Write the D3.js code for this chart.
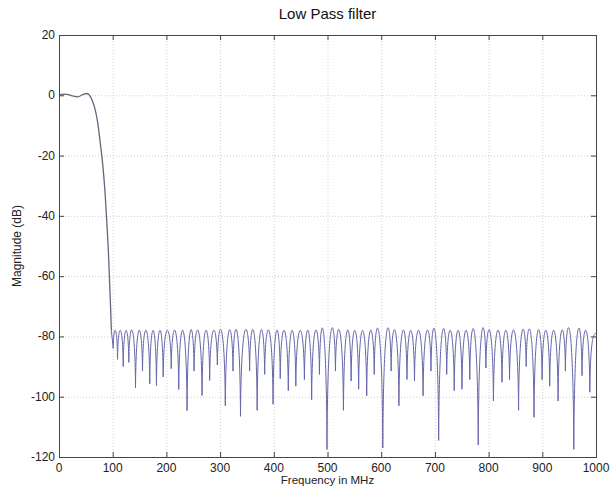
<!DOCTYPE html>
<html>
<head>
<meta charset="utf-8">
<script src="https://cdn.jsdelivr.net/npm/d3@7"></script>
<style>
  body { margin: 0; background: #fff; }
  svg { display: block; font-family: Arial, "Liberation Sans", sans-serif; }
</style>
</head>
<body>
<svg id="chart" width="610" height="488"></svg>
<script>
// Low pass filter magnitude response

// Tick values
const xTicks = [0, 100, 200, 300, 400, 500, 600, 700, 800, 900, 1000];
const yTicks = [-120, -100, -80, -60, -40, -20, 0, 20];

// Passband and transition band (MHz, dB)
const passFreq = [0, 8, 15, 25, 35, 45, 52, 57, 62, 67, 72, 77, 82, 86, 89, 92, 94, 96, 97.5];
const passDb   = [0, 0.4, 0.3, -0.2, -0.5, 0.3, 0.6, 0, -1.8, -4.5, -9, -16, -24, -33, -42, -52, -61, -70, -78];

// Stopband nulls (MHz, dB); lobes between them top out at peakDb
const nullFreq = [101, 109, 119.6, 130, 142.5, 155.5, 169, 181.5, 194, 209, 223, 238.5, 251.5, 266.4, 280.6, 294.9,
                  309.7, 324, 338, 355, 369, 383, 398.6, 412, 427, 441, 457, 470.5, 485, 499, 514.8, 529.7, 544, 558,
                  573, 587, 603, 618.5, 633, 648, 662, 678, 692.7, 707, 722, 736, 750.4, 765, 780.7, 795, 809, 825,
                  839, 855.8, 870, 884.6, 899.6, 913.8, 929.4, 943, 958.7, 974, 988.5];
const nullDb   = [-84, -87.6, -90, -88.6, -97, -91.5, -95.7, -96.3, -93.4, -90.7, -97.6, -104.6, -91.5, -99.6, -94.6, -89.5,
                  -103, -91.5, -106.5, -91.5, -104.5, -92.6, -102.5, -94, -98, -96.5, -94.3, -101, -92.6, -117.5, -91.5, -104.5, -94.8, -97.5,
                  -99.7, -92.6, -117, -91.5, -103, -94.3, -94.8, -99.7, -91.5, -114.5, -92.6, -98, -97.5, -94.3, -116, -90.5, -101.4, -95.2,
                  -94.3, -104.5, -90, -106.8, -94.3, -96.5, -101.4, -91.5, -117.5, -93, -98.5];
const peakDb = -78;
const endFreq = 1000;
const endDb = -79;

const svg = d3.select('#chart');
const margin = { top: 35, right: 14, bottom: 31, left: 59 };
const width = 610 - margin.left - margin.right;
const height = 488 - margin.top - margin.bottom;

const x = d3.scaleLinear().domain([0, 1000]).range([margin.left, margin.left + width]);
const y = d3.scaleLinear().domain([-120, 20]).range([margin.top + height, margin.top]);

// Plot background
svg.append('rect')
    .attr('x', margin.left).attr('y', margin.top)
    .attr('width', width).attr('height', height)
    .attr('fill', '#fff');

// Grid
const grid = svg.append('g').attr('class', 'grid')
    .attr('stroke', '#cfcfcf')
    .attr('stroke-width', 1)
    .attr('stroke-dasharray', '1,2');
grid.selectAll('.gx').data(xTicks.slice(1, -1)).join('line')
    .attr('x1', d => x(d) + 0.5).attr('x2', d => x(d) + 0.5)
    .attr('y1', margin.top).attr('y2', margin.top + height);
grid.selectAll('.gy').data(yTicks.slice(1, -1)).join('line')
    .attr('y1', d => y(d) + 0.5).attr('y2', d => y(d) + 0.5)
    .attr('x1', margin.left).attr('x2', margin.left + width);

// Passband / transition
const line = d3.line().x((d, i) => x(passFreq[i])).y(d => y(d)).curve(d3.curveMonotoneX);
svg.append('path')
    .attr('d', line(passDb))
    .attr('fill', 'none')
    .attr('stroke', '#66667a')
    .attr('stroke-width', 1.3);

// Stopband lobes: sharp nulls, rounded tops
const p = d3.path();
p.moveTo(x(passFreq[passFreq.length - 1]), y(passDb[passDb.length - 1]));
p.lineTo(x(nullFreq[0]), y(nullDb[0]));
for (let i = 0; i < nullFreq.length - 1; i++) {
    const xa = x(nullFreq[i]), ya = y(nullDb[i]);
    const xb = x(nullFreq[i + 1]), yb = y(nullDb[i + 1]);
    const w = xb - xa;
    const c = (y(peakDb) - (ya + yb) / 8) / 0.75;
    p.bezierCurveTo(xa + 0.08 * w, c, xb - 0.08 * w, c, xb, yb);
}
{
    const xa = x(nullFreq[nullFreq.length - 1]);
    const xe = x(endFreq), ye = y(endDb);
    p.bezierCurveTo(xa + 0.1 * (xe - xa), ye, xe - 0.3 * (xe - xa), ye, xe, ye);
}
svg.append('path')
    .attr('d', p.toString())
    .attr('fill', 'none')
    .attr('stroke', '#6666aa')
    .attr('stroke-width', 1);

// Axes box with inward ticks on all sides
const box = svg.append('g').attr('stroke', '#444').attr('stroke-width', 1).attr('fill', 'none');
box.append('rect')
    .attr('x', margin.left + 0.5).attr('y', margin.top + 0.5)
    .attr('width', width).attr('height', height);
const tickLen = 5;
box.selectAll('.tb').data(xTicks).join('line')
    .attr('x1', d => x(d) + 0.5).attr('x2', d => x(d) + 0.5)
    .attr('y1', margin.top + height).attr('y2', margin.top + height - tickLen);
box.selectAll('.tt').data(xTicks).join('line')
    .attr('x1', d => x(d) + 0.5).attr('x2', d => x(d) + 0.5)
    .attr('y1', margin.top).attr('y2', margin.top + tickLen);
box.selectAll('.tl').data(yTicks).join('line')
    .attr('y1', d => y(d) + 0.5).attr('y2', d => y(d) + 0.5)
    .attr('x1', margin.left).attr('x2', margin.left + tickLen);
box.selectAll('.tr').data(yTicks).join('line')
    .attr('y1', d => y(d) + 0.5).attr('y2', d => y(d) + 0.5)
    .attr('x1', margin.left + width).attr('x2', margin.left + width - tickLen);

// Tick labels
svg.append('g').selectAll('text').data(xTicks).join('text')
    .attr('x', d => x(d))
    .attr('y', margin.top + height + 15)
    .attr('text-anchor', 'middle')
    .style('font-size', '12px')
    .style('fill', '#222')
    .text(d => d);
svg.append('g').selectAll('text').data(yTicks).join('text')
    .attr('x', margin.left - 4)
    .attr('y', d => y(d) + 4)
    .attr('text-anchor', 'end')
    .style('font-size', '12px')
    .style('fill', '#222')
    .text(d => d);

// Title and axis labels
svg.append('text')
    .attr('x', margin.left + width / 2)
    .attr('y', 19)
    .attr('text-anchor', 'middle')
    .style('font-size', '15px')
    .style('fill', '#111')
    .text('Low Pass filter');
svg.append('text')
    .attr('x', margin.left + width / 2)
    .attr('y', 484)
    .attr('text-anchor', 'middle')
    .style('font-size', '11.5px')
    .style('fill', '#222')
    .text('Frequency in MHz');
svg.append('text')
    .attr('transform', `translate(21,${margin.top + height / 2}) rotate(-90)`)
    .attr('text-anchor', 'middle')
    .style('font-size', '12px')
    .style('fill', '#222')
    .text('Magnitude (dB)');
</script>
</body>
</html>
